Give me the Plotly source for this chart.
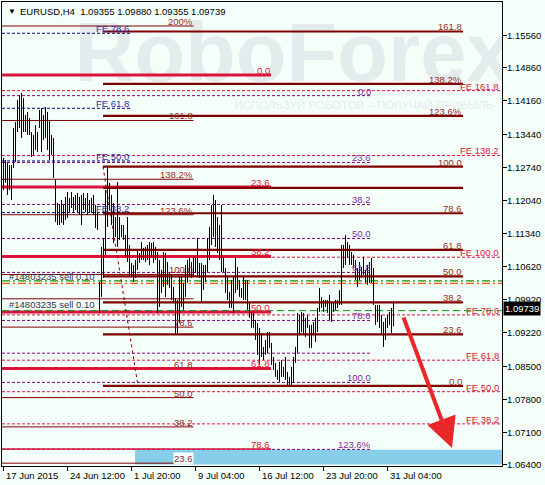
import plotly.graph_objects as go

# ---------------- data ----------------
TITLE_SYMBOL = "EURUSD,H4"
TITLE_OHLC = ["1.09355", "1.09880", "1.09355", "1.09739"]
BID = 1.09739

HIGH = [
    1.12941, 1.12898, 1.12834, 1.12792, 1.12792, 1.13580, 1.13707, 1.14176, 1.14283, 1.14325,
    1.14219, 1.13857, 1.13920, 1.13793, 1.13494, 1.13431, 1.13644, 1.13494, 1.13963, 1.14006,
    1.13857, 1.14027, 1.13920, 1.13750, 1.13431, 1.13367, 1.12472, 1.11982, 1.11940, 1.12046,
    1.11940, 1.12110, 1.12216, 1.12089, 1.12216, 1.12110, 1.12153, 1.12195, 1.12110, 1.12153,
    1.12195, 1.12089, 1.12195, 1.12046, 1.12089, 1.12153, 1.11940, 1.11790, 1.10299, 1.11045,
    1.11237, 1.12259, 1.12749, 1.12408, 1.12153, 1.11982, 1.11684, 1.12429, 1.11684, 1.11514,
    1.11514, 1.11301, 1.11684, 1.11088, 1.10704, 1.10662, 1.10768, 1.10981, 1.10917, 1.11151,
    1.11024, 1.11045, 1.11088, 1.11151, 1.11130, 1.11151, 1.11045, 1.10938, 1.10768, 1.10555,
    1.10938, 1.10917, 1.10725, 1.10491, 1.10449, 1.10193, 1.09959, 1.09916, 1.10406, 1.10406,
    1.10278, 1.10662, 1.10768, 1.10832, 1.10725, 1.10832, 1.10811, 1.11237, 1.10704, 1.10704,
    1.10662, 1.10662, 1.11237, 1.11471, 1.11940, 1.12153, 1.12046, 1.11684, 1.11514, 1.11940,
    1.10832, 1.10598, 1.10406, 1.10086, 1.10342, 1.10406, 1.10832, 1.10619, 1.10342, 1.10172,
    1.10406, 1.10342, 1.10342, 1.09852, 1.09660, 1.09639, 1.09490, 1.09426, 1.09320, 1.09213,
    1.08915, 1.09064, 1.09234, 1.09234, 1.09000, 1.08702, 1.08574, 1.08425, 1.08595, 1.08638,
    1.08489, 1.08702, 1.08382, 1.08276, 1.08489, 1.08702, 1.08915, 1.09639, 1.09597, 1.09660,
    1.09639, 1.09533, 1.09597, 1.09384, 1.09384, 1.09447, 1.09533, 1.09746, 1.10172, 1.09980,
    1.09916, 1.09916, 1.09916, 1.10023, 1.09873, 1.09873, 1.09916, 1.09916, 1.10129, 1.11088,
    1.11088, 1.11301, 1.11151, 1.11088, 1.10938, 1.10875, 1.10768, 1.10598, 1.10725, 1.10619,
    1.10832, 1.10555, 1.10662, 1.10725, 1.10811, 1.10598, 1.09810, 1.09810, 1.09810, 1.09597,
    1.09447, 1.09533, 1.09597, 1.09660, 1.09746, 1.09880,
]
LOW = [
    1.12259, 1.12408, 1.12153, 1.12259, 1.12046, 1.12728, 1.12855, 1.13494, 1.13580, 1.13367,
    1.13494, 1.13494, 1.13431, 1.13431, 1.12962, 1.13005, 1.13111, 1.13068, 1.13580, 1.13068,
    1.13324, 1.13367, 1.13111, 1.12898, 1.13005, 1.12515, 1.11577, 1.11514, 1.11514, 1.11556,
    1.11514, 1.11620, 1.11663, 1.11790, 1.11876, 1.11769, 1.11833, 1.11790, 1.11727, 1.11514,
    1.11833, 1.11790, 1.11727, 1.11790, 1.11769, 1.11727, 1.11450, 1.11407, 1.09639, 1.09980,
    1.10385, 1.10875, 1.11471, 1.11833, 1.11514, 1.11130, 1.11258, 1.11045, 1.11194, 1.11258,
    1.11194, 1.10832, 1.10725, 1.10406, 1.10406, 1.10299, 1.10385, 1.10555, 1.10704, 1.10768,
    1.10768, 1.10725, 1.10768, 1.10662, 1.10832, 1.10704, 1.10768, 1.09639, 1.09767, 1.10065,
    1.10193, 1.09980, 1.10236, 1.10172, 1.09916, 1.09852, 1.09171, 1.09171, 1.09426, 1.09767,
    1.09703, 1.09980, 1.10278, 1.10406, 1.10385, 1.10406, 1.10491, 1.10406, 1.10385, 1.09873,
    1.10129, 1.10299, 1.10512, 1.10768, 1.11088, 1.11258, 1.11045, 1.10917, 1.10768, 1.10512,
    1.10512, 1.10065, 1.09916, 1.09746, 1.09746, 1.09639, 1.10065, 1.10129, 1.09980, 1.09959,
    1.09916, 1.09916, 1.09703, 1.09533, 1.09320, 1.09320, 1.09064, 1.08745, 1.08532, 1.08702,
    1.08638, 1.08745, 1.08787, 1.08894, 1.08532, 1.08425, 1.08276, 1.08212, 1.08169, 1.08276,
    1.08276, 1.08212, 1.08106, 1.08106, 1.08106, 1.08148, 1.08574, 1.08787, 1.09171, 1.09234,
    1.09171, 1.09128, 1.09320, 1.08894, 1.08894, 1.09171, 1.09021, 1.09234, 1.09660, 1.09746,
    1.09660, 1.09767, 1.09639, 1.09490, 1.09447, 1.09660, 1.09703, 1.09746, 1.09810, 1.09810,
    1.10598, 1.10662, 1.10811, 1.10662, 1.10662, 1.10598, 1.10342, 1.10193, 1.10342, 1.10385,
    1.10449, 1.10278, 1.10236, 1.10278, 1.10278, 1.09810, 1.09384, 1.09447, 1.09320, 1.09171,
    1.08915, 1.09064, 1.09320, 1.09384, 1.09213, 1.09355,
]

X_TICK_BARS = [0, 32, 64, 96, 128, 160, 192]
X_TICK_TEXT = ["17 Jun 2015", "24 Jun 12:00", "1 Jul 20:00", "9 Jul 04:00",
               "16 Jul 12:00", "23 Jul 20:00", "31 Jul 04:00"]
Y_TICKS = [1.1556, 1.1486, 1.1416, 1.1344, 1.1274, 1.1204, 1.1134,
           1.1062, 1.0992, 1.0922, 1.0850, 1.0780, 1.0710, 1.0640]

# Fibonacci set A (thick maroon, right labels)
FIB_A_LABELS = ["161.8", "138.2%", "123.6%", "", "100.0", "78.6", "61.8", "50.0", "38.2", "23.6", "0.0"]
FIB_A_PRICES = [1.15635, 1.14517, 1.13835, 1.12302, 1.12755, 1.11763, 1.10981, 1.10417, 1.09863, 1.09181, 1.08084]
# Fibonacci set B (thin maroon, left)
FIB_B_LABELS = ["200%", "161.8", "138.2%", "123.6%", "100.0", "", "78.6", "61.8", "50.0", "38.2", "23.6"]
FIB_B_PRICES = [1.15752, 1.13739, 1.12487, 1.11731, 1.10459, 1.09940, 1.09337, 1.08451, 1.07835, 1.07211, 1.06438]
# Fibonacci set C (thick crimson)
FIB_C_LABELS = ["0.0", "23.6", "38.2", "50.0", "61.8", "78.6"]
FIB_C_PRICES = [1.14709, 1.12323, 1.10843, 1.09660, 1.08457, 1.06740]
# Fibonacci expansion, navy (left)
FE_L_LABELS = ["FE 78.6", "FE 61.8", "FE 50.0", "FE 38.2"]
FE_L_PRICES = [1.15597, 1.13999, 1.12877, 1.11776]
# Fibonacci set E (purple dashed)
FIB_E_LABELS = ["0.0", "23.6", "38.2", "50.0", "61.8", "78.6", "", "100.0", "123.6%"]
FIB_E_PRICES = [1.14268, 1.12845, 1.11950, 1.11226, 1.10502, 1.09479, 1.08781, 1.08159, 1.06732]
# Fibonacci expansion, crimson dashed (full width)
FE_R_LABELS = ["FE 161.8", "FE 138.2", "FE 100.0", "FE 78.6", "FE 61.8", "FE 50.0", "FE 38.2"]
FE_R_PRICES = [1.14374, 1.12994, 1.10826, 1.09597, 1.08632, 1.07961, 1.07275]

ORDER_TEXT = "#14803235 sell 0.10"
ORDER_GREEN = 1.10321
ORDER_ORANGE = 1.10267
ORDER_SL = 1.09688

TREND_PTS = [(49.75, 1.12755), (67.25, 1.08084)]
ARROW_PTS = [(199.75, 1.09575), (224.25, 1.06764)]
ZONE = (65.75, 1.06412, 1.06722)

# ---------------- layout constants ----------------
XR = [-0.75, 249.25]
YR = [1.06378, 1.16263]
FONT = "Liberation Sans"
BG = "#F5FFFA"
MAROON = "#800000"
MAROON_TXT = "#952a2a"
CRIMSON = "#DC143C"
NAVY = "#000080"
NAVY_TXT = "#2a2aa5"
PURPLE = "#800080"
PURPLE_TXT = "#7d2e9e"
LBL = 9.5

fig = go.Figure()

# watermark (behind everything)
fig.add_trace(go.Scatter(x=[145.0], y=[1.1502], mode="text", text=["RoboForex"],
                         textfont=dict(size=83, color="#E3EBEC", family=FONT, weight="bold"),
                         hoverinfo="skip", showlegend=False))
fig.add_trace(go.Scatter(x=[180.0], y=[1.14048], mode="text",
                         text=["ИСПОЛЬЗУЙ РОБОТОВ – ПОЛУЧАЙ ПРИБЫЛЬ"],
                         textfont=dict(size=11.5, color="#E4ECEC", family=FONT),
                         hoverinfo="skip", showlegend=False))


def hlines(x0, x1, prices, color, width, dash="solid"):
    xs, ys = [], []
    for p in prices:
        xs += [x0, x1, None]
        ys += [p, p, None]
    fig.add_trace(go.Scatter(x=xs, y=ys, mode="lines", hoverinfo="skip", showlegend=False,
                             line=dict(color=color, width=width, dash=dash)))


annotations = []


def labels(xr, prices, texts, color, bg=None):
    for p, t in zip(prices, texts):
        if not t:
            continue
        a = dict(x=xr, y=p, xref="x", yref="y", text=t, showarrow=False,
                 xanchor="right", yanchor="bottom", yshift=-2, borderpad=0,
                 font=dict(size=LBL, color=color, family=FONT))
        if bg and p < 1.0650:
            a["bgcolor"] = bg
        annotations.append(a)


# horizontal level lines
hlines(XR[0], XR[1], FE_R_PRICES, CRIMSON, 1, "3px,2px")
hlines(XR[0], 184.25, FIB_E_PRICES, PURPLE, 1, "3px,2px")
hlines(XR[0], 63.25, FE_L_PRICES, NAVY, 1, "3px,2px")
hlines(XR[0], 95.0, FIB_B_PRICES, MAROON, 1)
hlines(XR[0], 133.75, FIB_C_PRICES[:-1], CRIMSON, 3)
hlines(XR[0], 133.75, FIB_C_PRICES[-1:], CRIMSON, 1.5)
hlines(49.75, 229.75, FIB_A_PRICES, MAROON, 2.2)
hlines(XR[0], XR[1], [ORDER_GREEN], "#109010", 1.2, "8px,3px,2px,3px")
hlines(XR[0], XR[1], [ORDER_ORANGE], "#FF5A00", 1.2, "8px,3px,2px,3px")
hlines(XR[0], XR[1], [ORDER_SL], "#109010", 1, "7px,4px")

# fibo trend line
fig.add_trace(go.Scatter(x=[TREND_PTS[0][0], TREND_PTS[1][0]], y=[TREND_PTS[0][1], TREND_PTS[1][1]],
                         mode="lines", hoverinfo="skip", showlegend=False,
                         line=dict(color=MAROON, width=1, dash="3px,3px")))

# price bars: vertical high-low lines
bx, by = [], []
for i, (h, l) in enumerate(zip(HIGH, LOW)):
    bx += [i, i, None]
    by += [l, h, None]
fig.add_trace(go.Scatter(x=bx, y=by, mode="lines", hoverinfo="skip", showlegend=False,
                         line=dict(color="black", width=1)))

# level labels
labels(229.75, FIB_A_PRICES, FIB_A_LABELS, MAROON_TXT)
labels(95.0, FIB_B_PRICES, FIB_B_LABELS, MAROON_TXT, bg=BG)
labels(133.75, FIB_C_PRICES, FIB_C_LABELS, CRIMSON)
labels(63.25, FE_L_PRICES, FE_L_LABELS, NAVY_TXT)
labels(184.25, FIB_E_PRICES, FIB_E_LABELS, PURPLE_TXT)
labels(248.25, FE_R_PRICES, FE_R_LABELS, CRIMSON)

for p in [ORDER_ORANGE, ORDER_SL]:
    annotations.append(dict(x=2.25, y=p, xref="x", yref="y", text=ORDER_TEXT, showarrow=False,
                            xanchor="left", yanchor="bottom", yshift=0, borderpad=0,
                            font=dict(size=LBL, color="#33334a", family=FONT)))

# target zone
shapes = [dict(type="rect", xref="x", yref="y", x0=ZONE[0], x1=XR[1], y0=ZONE[1], y1=ZONE[2],
               fillcolor="#87CEEB", line=dict(width=0), layer="below")]

# red arrow
annotations.append(dict(x=ARROW_PTS[1][0], y=ARROW_PTS[1][1], ax=ARROW_PTS[0][0], ay=ARROW_PTS[0][1],
                        xref="x", yref="y", axref="x", ayref="y", text="", showarrow=True,
                        arrowhead=2, arrowsize=1.5, arrowwidth=4, arrowcolor="#E8282B", standoff=0))

# y tick labels (placed just right of the tick marks)
for v in Y_TICKS:
    annotations.append(dict(x=1, y=v, xref="paper", yref="y", text=f"{v:.5f}", showarrow=False,
                            xanchor="left", yanchor="middle", xshift=4, borderpad=0,
                            font=dict(size=LBL, color="black", family=FONT)))

# x tick labels
for xv, t in zip(X_TICK_BARS, X_TICK_TEXT):
    annotations.append(dict(x=xv + 0.6, y=0, xref="x", yref="paper", text=t, showarrow=False,
                            xanchor="left", yanchor="top", yshift=-3, borderpad=0,
                            font=dict(size=LBL, color="black", family=FONT)))

# title
annotations.append(dict(x=0.008, y=0.9806, xref="paper", yref="paper", text="▼", showarrow=False,
                        xanchor="left", yanchor="middle", font=dict(size=8, color="black", family=FONT)))
annotations.append(dict(x=0.031, y=0.9806, xref="paper", yref="paper",
                        text=TITLE_SYMBOL + "  " + " ".join(TITLE_OHLC), showarrow=False,
                        xanchor="left", yanchor="middle", font=dict(size=LBL, color="black", family=FONT)))

# current price box
annotations.append(dict(x=1, y=BID, xref="paper", yref="y", text=f"{BID:.5f}", showarrow=False,
                        xanchor="left", yanchor="middle", xshift=1, bgcolor="black", borderpad=1,
                        font=dict(size=LBL, color="white", family=FONT)))

fig.update_layout(
    width=545, height=485,
    margin=dict(l=2, r=43, t=2, b=19),
    paper_bgcolor=BG, plot_bgcolor=BG,
    showlegend=False,
    shapes=shapes, annotations=annotations,
    xaxis=dict(range=XR, showgrid=False, zeroline=False, showline=True, mirror=True,
               linecolor="black", linewidth=1, ticks="outside", ticklen=4, tickcolor="black",
               tickvals=X_TICK_BARS, showticklabels=False, fixedrange=True),
    yaxis=dict(range=YR, side="right", showgrid=False, zeroline=False, showline=True, mirror=True,
               linecolor="black", linewidth=1, ticks="outside", ticklen=4, tickcolor="black",
               tickvals=Y_TICKS, showticklabels=False, fixedrange=True),
)

fig.write_html("out.html", config={"displayModeBar": False},
               post_script="document.body.style.margin='0';document.body.style.overflow='hidden';"
                           "document.body.style.background='" + BG + "';")
